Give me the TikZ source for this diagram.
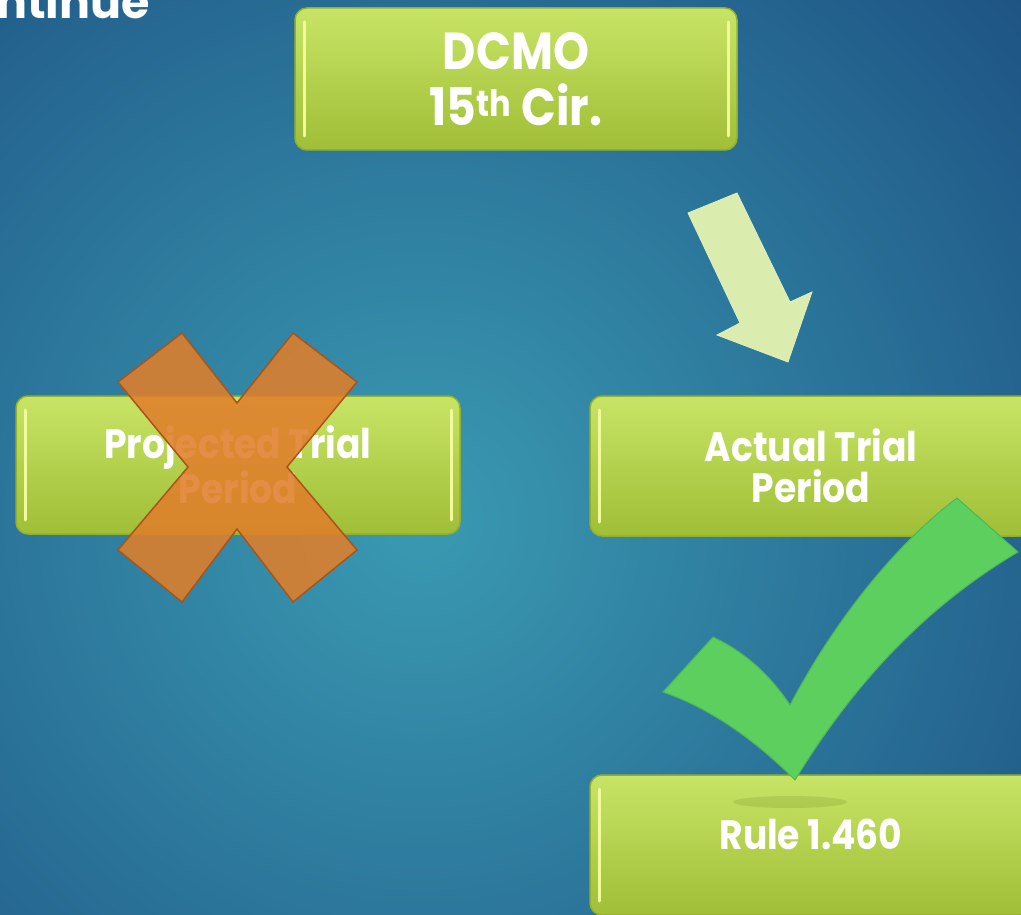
\documentclass[tikz,border=0pt]{standalone}
\usepackage{fontspec}
\setmainfont{Poppins}[FakeStretch=0.88]
\newfontfamily\titlefont{Poppins}
\definecolor{bgin}{HTML}{3A9AB2}
\definecolor{bgout}{HTML}{1D5283}
\definecolor{boxtop}{HTML}{C8E466}
\definecolor{boxbot}{HTML}{A0BE36}
\definecolor{boxedge}{HTML}{94B02A}
\definecolor{boxhl}{HTML}{F2FA9C}
\definecolor{arrowfill}{HTML}{DAECAE}
\definecolor{crossfill}{HTML}{E07F2B}
\definecolor{crossedge}{HTML}{A8541A}
\definecolor{checkfill}{HTML}{5DCF5F}
\definecolor{checkedge}{HTML}{4FB656}
\tikzset{
  greenbox/.style={rectangle, rounded corners=12pt, draw=boxedge, line width=1.5pt,
    top color=boxtop, bottom color=boxbot, text=white, align=center,
    font=\bfseries\fontsize{41}{41}\selectfont, inner sep=0pt,
    path picture={
      \draw[boxhl, line width=3pt, line cap=round]
        ([xshift=9pt,yshift=-14pt]path picture bounding box.north west) --
        ([xshift=9pt,yshift=14pt]path picture bounding box.south west);
      \draw[boxhl, line width=3pt, line cap=round]
        ([xshift=-9pt,yshift=-14pt]path picture bounding box.north east) --
        ([xshift=-9pt,yshift=14pt]path picture bounding box.south east);
    }},
  bigtext/.style={font=\bfseries\fontsize{52}{56}\selectfont},
  blockarrow/.style={fill=arrowfill, draw=arrowfill!80!white, line width=0.8pt},
  crossmark/.style={fill=crossfill, fill opacity=0.88, draw=crossedge, line width=1.5pt},
  checkmark/.style={fill=checkfill, draw=checkedge, line width=1pt},
  titletext/.style={text=white, font=\titlefont\bfseries\fontsize{46}{46}\selectfont, inner sep=0pt}
}
\begin{document}
\begin{tikzpicture}[x=1pt, y=-1pt]
\useasboundingbox (0,0) rectangle (1021,915);
\clip (0,0) rectangle (1021,915);
% background
\shade[inner color=bgin, outer color=bgout] (420,520) circle (820);
% title fragment
\node[titletext, anchor=base west] (title) at (-4,19) {ntinue};
% boxes
\node[greenbox, minimum width=442pt, minimum height=142pt] (dcmo) at (516,79)
  {\raisebox{5pt}{\parbox{400pt}{\centering\bfseries\fontsize{52}{56}\selectfont DCMO\\15\textsuperscript{th} Cir.}}};
\node[greenbox, minimum width=444pt, minimum height=138pt] (proj) at (238,465)
  {Projected Trial\\Period};
\node[greenbox, minimum width=442pt, minimum height=140pt] (actual) at (811,466)
  {Actual Trial\\Period};
\node[greenbox, minimum width=442pt, minimum height=140pt] (rule) at (811,845)
  {\raisebox{21pt}{Rule 1.460}};
% arrow
\draw[blockarrow] (688,213) -- (737,193) -- (790,302) -- (812,292) -- (788,362)
  -- (717,335) -- (740,323) -- cycle;
% cross
\draw[crossmark] (118,382) -- (182,333) -- (237,403) -- (293,333) -- (357,382)
  -- (287,467) -- (357,550) -- (293,602) -- (237,529) -- (182,602) -- (118,550)
  -- (188,467) -- cycle;
% check shadow
\fill[black!30!boxbot, opacity=0.2] (790,802) ellipse (57 and 6);
% check
\draw[checkmark] (713,637) .. controls (745,652) and (770,675) .. (790,705)
  .. controls (835,620) and (895,545) .. (957,498)
  -- (1018,552)
  .. controls (920,610) and (850,690) .. (795,780)
  .. controls (760,745) and (715,710) .. (663,692) -- cycle;
\end{tikzpicture}
\end{document}
